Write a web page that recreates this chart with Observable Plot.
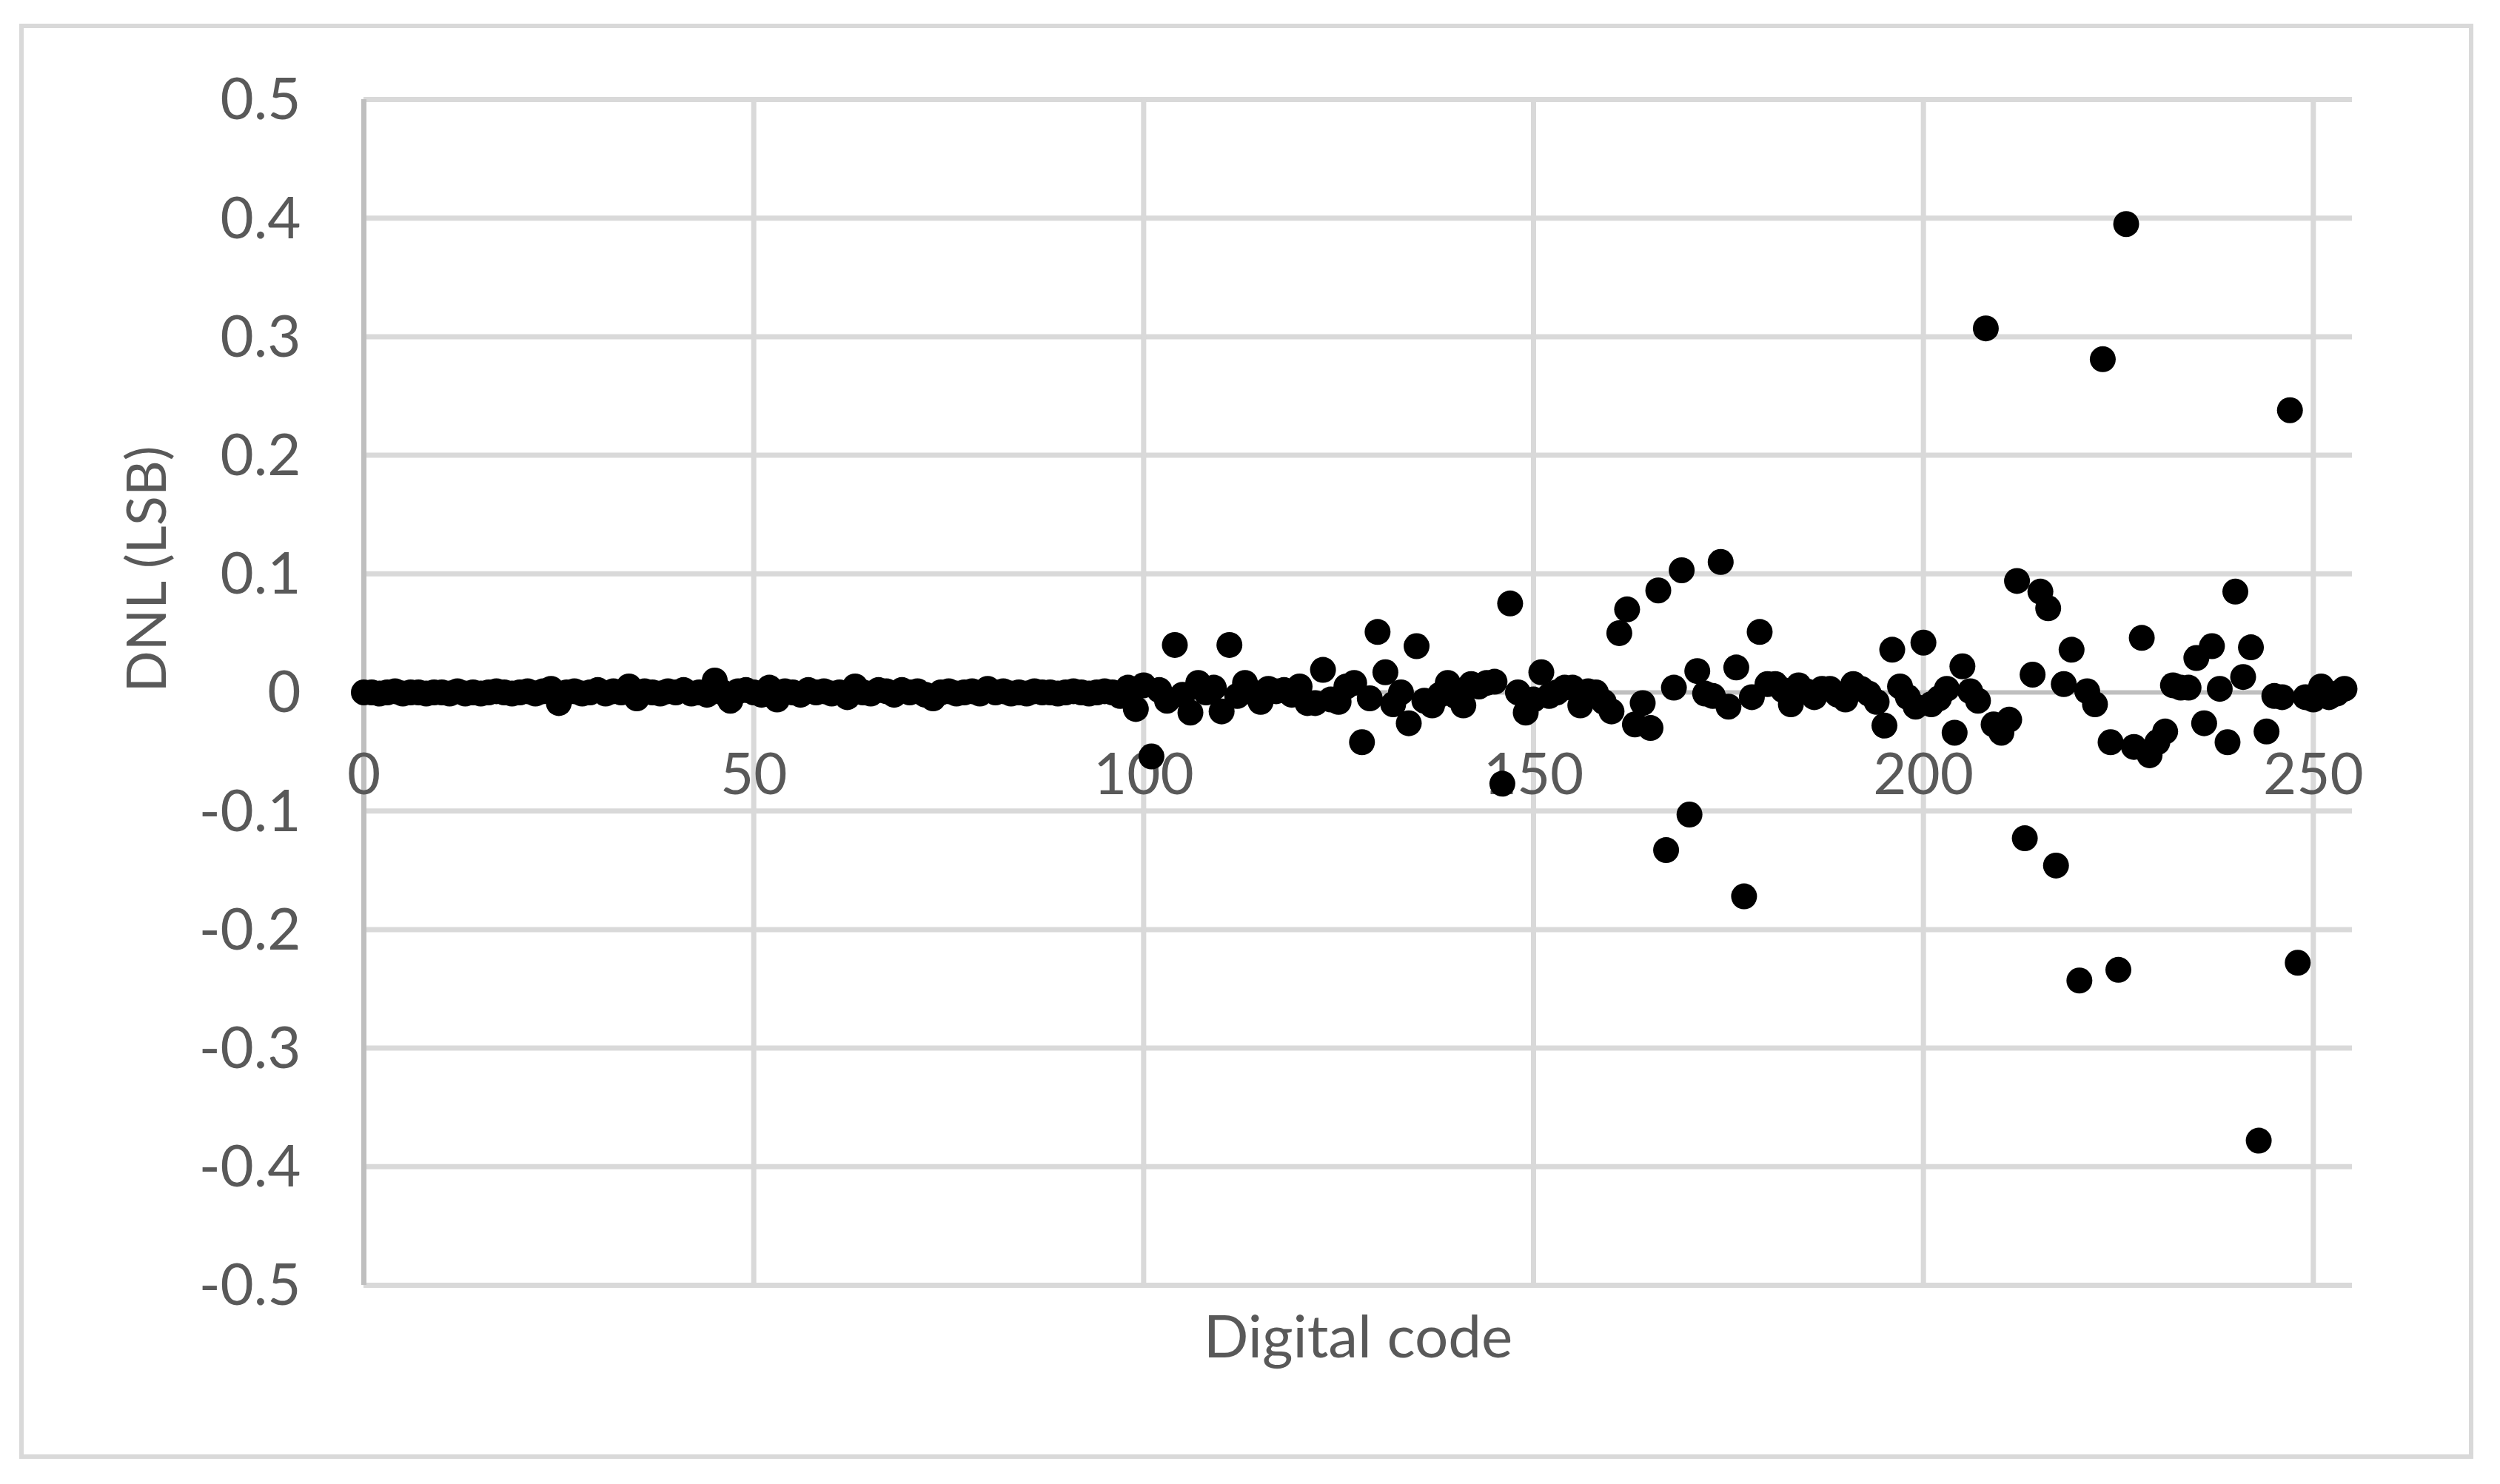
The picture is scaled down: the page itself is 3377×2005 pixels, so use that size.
<!DOCTYPE html>
<html>
<head>
<meta charset="utf-8">
<script src="https://cdn.jsdelivr.net/npm/d3@7"></script>
<script src="https://cdn.jsdelivr.net/npm/@observablehq/plot@0.6"></script>
<style>
  html, body { margin: 0; padding: 0; background: #ffffff; }
  #chart { width: 3377px; height: 2005px; }
</style>
</head>
<body>
<div id="chart"></div>
<script>
// DNL (LSB) for digital codes 0..254 (index = code)
const dnl = [
  0.000, 0.000, -0.001, 0.000, 0.001, -0.001, 0.000, 0.000, -0.001, 0.000,
  0.000, -0.001, 0.001, -0.001, 0.000, -0.001, 0.000, 0.001, 0.000, -0.001,
  0.000, 0.001, -0.001, 0.001, 0.003, -0.009, 0.000, 0.001, -0.001, 0.000,
  0.002, -0.001, 0.001, 0.000, 0.005, -0.005, 0.001, 0.000, -0.001, 0.001,
  0.000, 0.002, -0.001, 0.000, -0.002, 0.010, 0.000, -0.007, 0.001, 0.002,
  0.000, -0.002, 0.004, -0.006, 0.001, 0.000, -0.002, 0.002, 0.000, 0.001,
  -0.001, 0.000, -0.004, 0.005, 0.000, -0.001, 0.002, 0.001, -0.002, 0.002,
  0.000, 0.001, -0.002, -0.005, 0.000, 0.001, -0.001, 0.000, 0.001, -0.001,
  0.003, 0.000, 0.001, -0.001, 0.000, -0.001, 0.001, 0.000, 0.000, -0.001,
  0.000, 0.001, 0.000, -0.001, 0.000, 0.001, 0.000, -0.003, 0.004, -0.014,
  0.006, -0.054, 0.002, -0.007, 0.040, -0.002, -0.017, 0.008, 0.000, 0.004,
  -0.016, 0.040, -0.003, 0.008, 0.000, -0.008, 0.003, 0.001, 0.002, -0.002,
  0.005, -0.009, -0.009, 0.019, -0.006, -0.008, 0.005, 0.008, -0.042, -0.005,
  0.051, 0.017, -0.010, 0.000, -0.026, 0.039, -0.007, -0.011, -0.002, 0.008,
  -0.003, -0.011, 0.007, 0.005, 0.008, 0.009, -0.077, 0.075, 0.000, -0.017,
  -0.006, 0.017, -0.003, 0.000, 0.004, 0.004, -0.011, 0.001, 0.000, -0.008,
  -0.016, 0.050, 0.070, -0.027, -0.009, -0.030, 0.086, -0.133, 0.004, 0.103,
  -0.103, 0.018, -0.001, -0.003, 0.110, -0.012, 0.021, -0.172, -0.004, 0.051,
  0.007, 0.007, 0.002, -0.010, 0.006, 0.001, -0.004, 0.003, 0.003, -0.002,
  -0.006, 0.007, 0.003, -0.001, -0.008, -0.028, 0.036, 0.005, -0.004, -0.012,
  0.042, -0.010, -0.005, 0.003, -0.034, 0.022, 0.001, -0.007, 0.307, -0.027,
  -0.034, -0.023, 0.094, -0.123, 0.015, 0.085, 0.071, -0.146, 0.007, 0.036,
  -0.243, 0.001, -0.010, 0.281, -0.042, -0.234, 0.395, -0.046, 0.046, -0.053,
  -0.042, -0.033, 0.006, 0.004, 0.004, 0.029, -0.026, 0.039, 0.003, -0.042,
  0.085, 0.013, 0.038, -0.378, -0.033, -0.003, -0.004, 0.238, -0.228, -0.004,
  -0.006, 0.005, -0.004, -0.001, 0.003
];

const xTicks = [0, 50, 100, 150, 200, 250];
const xTickLabels = ["0", "50", "100", "150", "200", "250"];
const yTicks = [0.5, 0.4, 0.3, 0.2, 0.1, 0, -0.1, -0.2, -0.3, -0.4, -0.5];
const yTickLabels = ["0.5", "0.4", "0.3", "0.2", "0.1", "0", "-0.1", "-0.2", "-0.3", "-0.4", "-0.5"];
const xDomain = [0, 255];
const yDomain = [-0.5, 0.5];
const xTitle = "Digital code";
const yTitle = "DNL (LSB)";

const W = 3377, H = 2005;
const font = "Lato, 'Open Sans', sans-serif";
const labelColor = "#595959";

const points = dnl.map((v, i) => ({code: i, v}));
const yTickRows = yTicks.map((t, i) => ({t, label: yTickLabels[i]}));
const xTickRows = xTicks.map((t, i) => ({t, label: xTickLabels[i]}));

const chart = Plot.plot({
  width: W,
  height: H,
  marginLeft: 491,
  marginRight: 200,
  marginTop: 134,
  marginBottom: 269,
  x: {domain: xDomain, axis: null},
  y: {domain: yDomain, axis: null},
  style: {fontFamily: font, background: "#ffffff", overflow: "visible"},
  marks: [
    // horizontal gridlines
    Plot.ruleY(yTicks.filter(t => t !== 0), {stroke: "#d9d9d9", strokeWidth: 7}),
    // vertical gridlines
    Plot.ruleX(xTicks.filter(t => t !== 0), {stroke: "#d9d9d9", strokeWidth: 7}),
    // axis lines
    Plot.ruleX([0], {stroke: "#bfbfbf", strokeWidth: 7}),
    Plot.ruleY([0], {stroke: "#bfbfbf", strokeWidth: 6}),
    // y tick labels
    Plot.text(yTickRows, {
      x: xDomain[0], y: "t", text: "label",
      textAnchor: "end", dx: -85, dy: 2,
      fontSize: 78, fill: labelColor
    }),
    // x tick labels (sitting under the zero line)
    Plot.text(xTickRows, {
      x: "t", y: 0, text: "label",
      textAnchor: "middle", dy: 113,
      fontSize: 78, fill: labelColor
    }),
    // data
    Plot.dot(points, {x: "code", y: "v", r: 17.5, fill: "#000000", stroke: "none"}),
    // axis titles
    Plot.text([xTitle], {
      frameAnchor: "bottom", dy: 97, text: d => d,
      fontSize: 80, fill: labelColor
    }),
    Plot.text([yTitle], {
      frameAnchor: "left", dx: -291, text: d => d, rotate: -90,
      fontSize: 74, fill: labelColor
    })
  ]
});

// chart area border
d3.select(chart).append("rect")
  .attr("x", 29).attr("y", 35)
  .attr("width", 3309).attr("height", 1933)
  .attr("fill", "none")
  .attr("stroke", "#d9d9d9")
  .attr("stroke-width", 6);

document.getElementById("chart").appendChild(chart);
</script>
</body>
</html>
